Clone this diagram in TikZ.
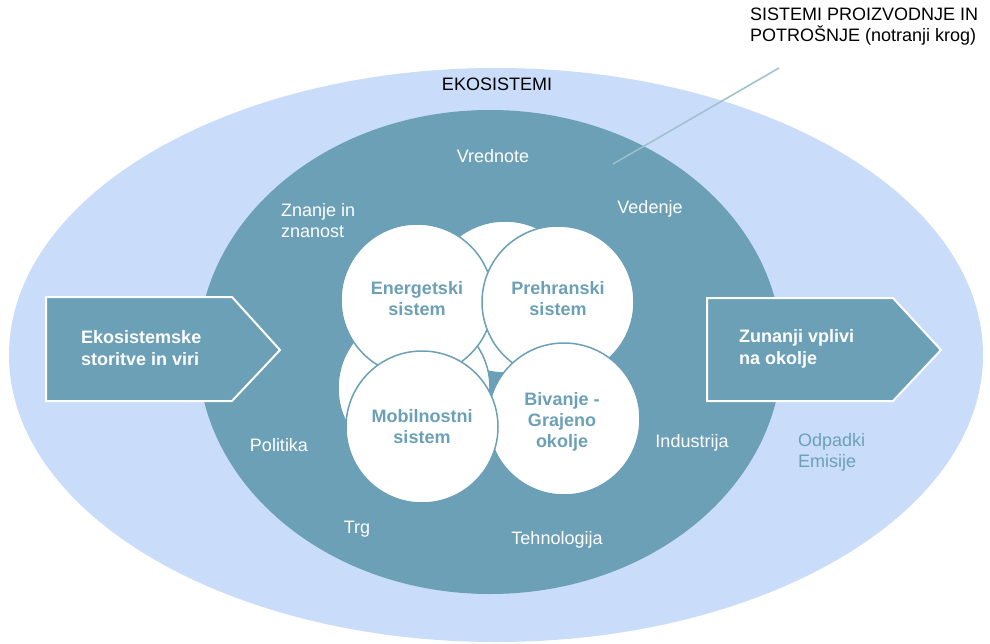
\documentclass[tikz,border=0pt]{standalone}
\usepackage{fontspec}
\setmainfont{Liberation Sans}
\definecolor{tealc}{HTML}{6BA0B7}
\definecolor{lightb}{HTML}{C9DDFB}
\definecolor{leaderc}{HTML}{9CC0CE}
\begin{document}
\begin{tikzpicture}[x=1pt,y=-1pt,
  txt/.style={font=\fontsize{18}{21}\selectfont,inner sep=0pt},
  wlbl/.style={txt,text=white,align=center},
  sysc/.style={circle,draw=tealc,fill=white,line width=1.5pt,minimum size=152pt,inner sep=0pt},
  systxt/.style={text=tealc,align=center,inner sep=0pt,font=\bfseries\fontsize{18}{21}\selectfont},
  arrowbox/.style={fill=tealc,draw=white,line width=2pt,line join=miter},
  arrtxt/.style={txt,text=white,align=left,font=\bfseries\fontsize{18}{21.5}\selectfont,anchor=west}]
\useasboundingbox (0,0) rectangle (990,644);
\clip (0,0) rectangle (990,644);
\fill[white] (0,0) rectangle (990,644);
% ellipses
\fill[lightb] (496,355) ellipse [x radius=487pt, y radius=287pt];
\fill[tealc] (490,352) ellipse [x radius=292pt, y radius=242pt];
% leader line
\coordinate (ltop) at (779,68);
\coordinate (lbot) at (613,164);
\draw[leaderc,line width=1.5pt] (ltop) -- (lbot);
% labels
\node[txt,anchor=west,align=left,text=black] (sistemi) at (750,27) {SISTEMI PROIZVODNJE IN\\POTRO\v{S}NJE (notranji krog)};
\node[txt,text=black] (eko) at (497,84) {EKOSISTEMI};
\node[wlbl] (vred) at (493,156) {Vrednote};
\node[wlbl,anchor=west,align=left] (znanje) at (281,220.5) {Znanje in\\znanost};
\node[wlbl] (vedenje) at (650,209) {Vedenje};
\node[wlbl] (politika) at (279,445) {Politika};
\node[wlbl] (industrija) at (692,443) {Industrija};
\node[wlbl] (trg) at (357,529) {Trg};
\node[wlbl] (tehno) at (557,540) {Tehnologija};
% circles
\node[sysc] (backtop) at (505,297) {};
\node[sysc] (backleft) at (414,388) {};
\node[sysc] (energ) at (417,300) {};
\node[systxt] (energ-t) at ([yshift=1pt]energ.center) {Energetski\\sistem};
\node[sysc] (prehr) at (558,302) {};
\node[systxt] (prehr-t) at ([yshift=3pt]prehr.center) {Prehranski\\sistem};
\node[sysc] (bivanje) at (564,419) {};
\node[systxt] (bivanje-t) at ([yshift=-2.5pt,xshift=-2pt]bivanje.center) {Bivanje -\\Grajeno\\okolje};
\node[sysc] (mobil) at (422,427) {};
\node[systxt] (mobil-t) at (mobil.center) {Mobilnostni\\sistem};
% arrows
\draw[arrowbox] (46,297) -- (232,297) -- (280,350) -- (232,401) -- (46,401) -- cycle;
\node[arrtxt] (inflow) at (81,348) {Ekosistemske\\storitve in viri};
\draw[arrowbox] (707,298) -- (893,298) -- (941,350) -- (893,401) -- (707,401) -- cycle;
\node[arrtxt] (outflow) at (739,349) {Zunanji vplivi\\na okolje};
\node[txt,anchor=west,align=left,text=tealc] (odpadki) at (798,452) {Odpadki\\Emisije};
\end{tikzpicture}
\end{document}
